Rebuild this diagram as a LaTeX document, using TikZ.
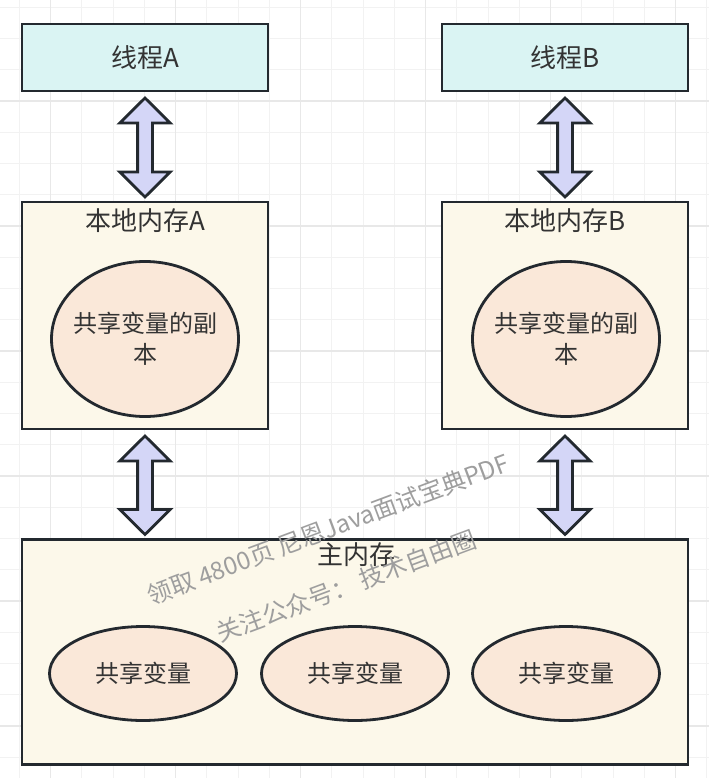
\documentclass[tikz,border=0pt]{standalone}
\usepackage{fontspec}
\setmainfont{Noto Sans CJK SC}
\usetikzlibrary{shapes.geometric,calc}
\definecolor{gridminor}{HTML}{F2F2F2}
\definecolor{gridmajor}{HTML}{E8E8E8}
\definecolor{edge}{HTML}{23292F}
\definecolor{threadfill}{HTML}{DAF4F3}
\definecolor{memfill}{HTML}{FCF8EA}
\definecolor{varfill}{HTML}{FAE8D9}
\definecolor{arrfill}{HTML}{D4D6F7}
\definecolor{txt}{HTML}{333333}
\definecolor{wmcol}{HTML}{9E9E9E}
\newcommand\dblarrow[2]{%
  \draw[dblarr] let \p1=($(#1.south)+(0,7)$), \p2=($(#2.north)+(0,-5)$) in
  (\x1,\y1) -- (\x1+25.2pt,\y1-25pt) -- (\x1+7.4pt,\y1-25pt) -- (\x1+7.4pt,\y2+25pt)
  -- (\x1+25.2pt,\y2+25pt) -- (\x1,\y2) -- (\x1-25.2pt,\y2+25pt) -- (\x1-7.4pt,\y2+25pt)
  -- (\x1-7.4pt,\y1-25pt) -- (\x1-25.2pt,\y1-25pt) -- cycle;}
\begin{document}
\begin{tikzpicture}[x=1pt,y=-1pt,
  tbox/.style={draw=edge, line width=2.8pt, fill=threadfill, rectangle, inner sep=0pt, outer sep=0pt,
     minimum width=246pt, minimum height=67pt, text=txt, font=\fontsize{26}{30}\selectfont},
  membox/.style={draw=edge, line width=2.8pt, fill=memfill, rectangle, inner sep=0pt, outer sep=0pt},
  varell/.style={draw=edge, line width=2.8pt, fill=varfill, ellipse, inner sep=0pt, outer sep=0pt,
     text=txt, align=center, font=\fontsize{24}{31}\selectfont},
  vtext/.style={text=txt, inner sep=0pt, align=center, font=\fontsize{24}{31}\selectfont},
  ttext/.style={text=txt, inner sep=0pt, font=\fontsize{26}{30}\selectfont},
  dblarr/.style={draw=edge, line width=2.8pt, fill=arrfill, line join=miter},
  wm/.style={text=wmcol, inner sep=0pt, font=\fontsize{24.5}{28}\selectfont}]
\useasboundingbox (0,0) rectangle (709,778);
\fill[white] (0,0) rectangle (709,778);
% grid
\foreach \i in {0,...,22} \draw[gridminor, line width=1pt] ({19.45+31.25*\i},0) -- ++(0,778);
\foreach \i in {0,...,24} \draw[gridminor, line width=1pt] (0,{7.25+31.25*\i}) -- ++(709,0);
\foreach \i in {0,...,5} \draw[gridmajor, line width=1.5pt] ({50.7+125*\i},0) -- ++(0,778);
\foreach \i in {0,...,5} \draw[gridmajor, line width=1.5pt] (0,{101+125*\i}) -- ++(709,0);
% threads
\node[tbox] (tA) at (145,57.5) {线程A};
\node[tbox] (tB) at (565,57.5) {线程B};
% local memories
\node[membox, minimum width=246pt, minimum height=227pt] (lA) at (145,315.5) {};
\node[membox, minimum width=246pt, minimum height=227pt] (lB) at (565,315.5) {};
\node[ttext] (lAt) at (145,221) {本地内存A};
\node[ttext] (lBt) at (565,221) {本地内存B};
\node[varell, minimum width=187pt, minimum height=155pt] (cA) at (145,339) {};
\node[varell, minimum width=187pt, minimum height=155pt] (cB) at (566,339) {};
\node[vtext] (cAt) at (cA.center) {共享变量的副\\本};
\node[vtext] (cBt) at (cB.center) {共享变量的副\\本};
% main memory
\node[membox, minimum width=666pt, minimum height=225pt] (mm) at (355,652) {};
\node[ttext] (mmt) at (356,555) {主内存};
\node[varell, minimum width=187pt, minimum height=94pt] (v1) at (143,673.5) {共享变量};
\node[varell, minimum width=187pt, minimum height=94pt] (v2) at (355,673.5) {共享变量};
\node[varell, minimum width=187pt, minimum height=94pt] (v3) at (566,673.5) {共享变量};
% arrows
\dblarrow{tA}{lA}
\dblarrow{tB}{lB}
\dblarrow{lA}{mm}
\dblarrow{lB}{mm}
% watermark
\node[wm, rotate=20.5] (wm1) at (328,529) {领取 4800页 尼恩Java面试宝典PDF};
\node[wm, rotate=20.5] (wm2) at (346,586) {关注公众号：\ 技术自由圈};
\end{tikzpicture}
\end{document}
